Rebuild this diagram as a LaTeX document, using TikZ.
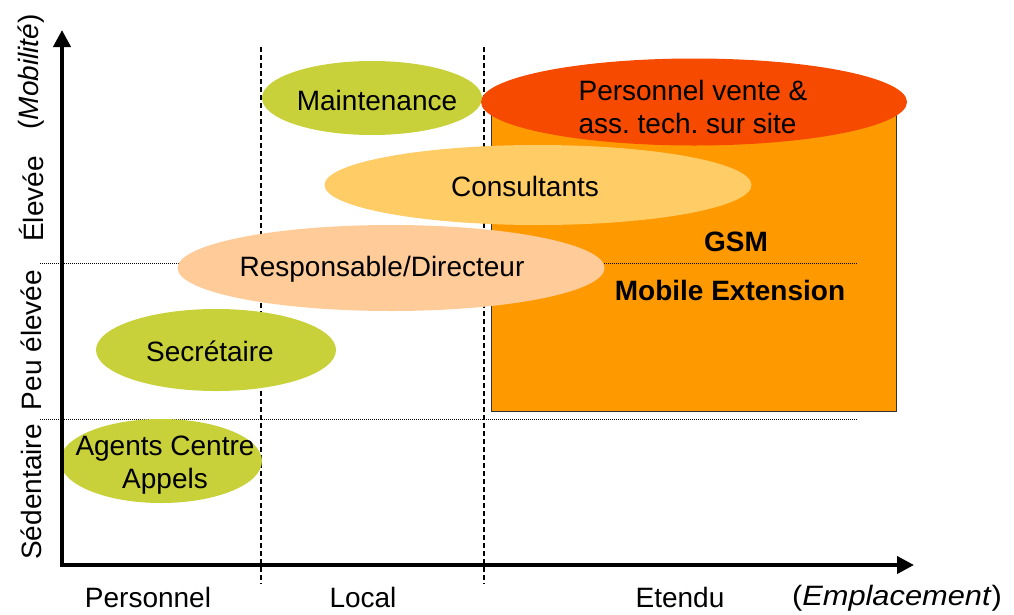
\documentclass[tikz,border=0pt]{standalone}
\usepackage{fontspec}
\setmainfont{Liberation Sans}
\usetikzlibrary{shapes.geometric,arrows.meta}
\definecolor{cgreen}{HTML}{C8D03A}
\definecolor{cred}{HTML}{F54A00}
\definecolor{corange}{HTML}{FF9900}
\definecolor{cconsult}{HTML}{FFCC66}
\definecolor{cresp}{HTML}{FFCC99}
\frenchspacing
\begin{document}
\begin{tikzpicture}[x=1pt,y=-1pt,
  font=\fontsize{28}{33}\selectfont,
  blob/.style={ellipse, inner sep=0pt, draw=none},
  vsep/.style={line width=1.3pt, dash pattern=on 5pt off 3pt},
  hsep/.style={line width=0.9pt, dash pattern=on 1pt off 1pt},
  axis/.style={line width=4pt, miter limit=10},
  lab/.style={inner sep=0pt, anchor=center, align=center}]
\useasboundingbox (0,0) rectangle (1014,614);

% orange zone
\node[draw=black!80, line width=1pt, fill=corange, minimum width=405pt, minimum height=306pt, inner sep=0pt, anchor=north west] (zone) at (491,105) {};

% separators
\coordinate (v1t) at (261,47); \coordinate (v1b) at (261,584);
\coordinate (v2t) at (484,47); \coordinate (v2b) at (484,584);
\coordinate (h1l) at (40,263); \coordinate (h1r) at (858,263);
\coordinate (h2l) at (40,419); \coordinate (h2r) at (858,419);
\draw[vsep] (v1t) -- (v1b);
\draw[vsep] (v2t) -- (v2b);
\draw[hsep] (h1l) -- (h1r);
\draw[hsep] (h2l) -- (h2r);

% ellipses
\node[blob, fill=cgreen, minimum width=220pt, minimum height=74pt] (maint) at (372,98) {};
\node[blob, fill=cred, minimum width=426pt, minimum height=87pt] (vente) at (694,102) {};
\node[blob, fill=cconsult, minimum width=427pt, minimum height=80pt] (consult) at (538,185) {};
\node[blob, fill=cresp, minimum width=427pt, minimum height=86pt] (resp) at (391,268) {};
\node[blob, fill=cgreen, minimum width=240pt, minimum height=82pt] (secr) at (216,350) {};
\node[blob, fill=cgreen, minimum width=202pt, minimum height=84pt] (agents) at (161,461) {};

% ellipse texts
\node[lab] (tmaint) at (377,100) {Maintenance};
\node[lab, align=left] (tvente) at (693,107) {Personnel vente \&\\ass. tech. sur site};
\node[lab] (tconsult) at (525,186) {Consultants};
\node[lab] (tresp) at (382,269) {Responsable/Directeur};
\node[lab] (tsecr) at (210,351) {Secrétaire};
\node[lab] (tagents) at (165,465) {Agents Centre\\Appels};

% zone labels
\node[lab, font=\fontsize{28}{32}\selectfont\bfseries] (gsm) at (736,242) {GSM};
\node[lab, font=\fontsize{28}{32}\selectfont\bfseries] (mobext) at (730,290) {Mobile Extension};

% axes
\coordinate (O) at (62,565);
\coordinate (ytip) at (62,30);
\coordinate (xtip) at (914,565);
\draw[axis, {Triangle[length=17pt,width=17pt]}-{Triangle[length=17pt,width=17pt]}] (ytip) -- (O) -- (xtip);

% axis labels
\node[lab] (xpers) at (148,597) {Personnel};
\node[lab] (xloc) at (363,597) {Local};
\node[lab] (xet) at (680,597) {Etendu};
\node[lab] (xemp) at (897,598) {\scalebox{1.1}[1]{(\textit{Emplacement})}};
\node[lab, rotate=90] (ysed) at (31,492) {Sédentaire};
\node[lab, rotate=90] (ypeu) at (31,340) {Peu élevée};
\node[lab, rotate=90] (yelev) at (31,199) {Élevée};
\node[lab, rotate=90] (ymob) at (31,72) {(\textit{Mobilité})};
\end{tikzpicture}
\end{document}
